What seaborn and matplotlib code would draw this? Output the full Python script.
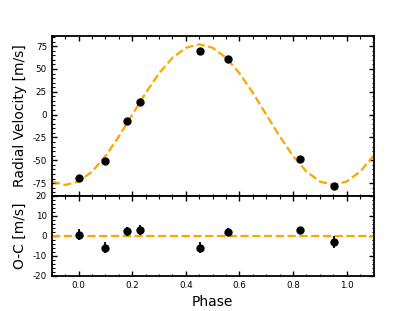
import matplotlib
matplotlib.use("Agg")
import matplotlib.pyplot as plt
import numpy as np
import pandas as pd
import seaborn as sns
from matplotlib.ticker import MultipleLocator, AutoMinorLocator

# ---- data ----
phase = [0.0, 0.10, 0.181, 0.227, 0.453, 0.556, 0.826, 0.953]
rv = [-69.0, -50.5, -6.7, 13.4, 69.8, 60.4, -48.2, -77.8]
resid = [0.5, -6.0, 2.2, 2.8, -6.0, 1.8, 2.7, -3.3]
resid_err = [2.8, 2.7, 2.2, 2.5, 2.7, 2.0, 2.0, 3.0]

model_phase = [-0.10, -0.05, 0.00, 0.05, 0.10, 0.15, 0.20, 0.25, 0.30, 0.35,
               0.40, 0.45, 0.50, 0.55, 0.60, 0.65, 0.70, 0.75, 0.80, 0.85,
               0.90, 0.95, 1.00, 1.05, 1.10]
model_rv = [-73.2, -77.0, -73.2, -62.3, -45.3, -23.8, 0.0, 23.8, 45.3, 62.3,
            73.2, 77.0, 73.2, 62.3, 45.3, 23.8, 0.0, -23.8, -45.3, -62.3,
            -73.2, -77.0, -73.2, -62.3, -45.3]

xlabel = "Phase"
ylabel_top = "Radial Velocity [m/s]"
ylabel_bot = "O-C [m/s]"

df = pd.DataFrame({"phase": phase, "rv": rv,
                   "resid": resid, "resid_err": resid_err})
dm = pd.DataFrame({"phase": model_phase, "rv": model_rv})

sns.set_style("white", {"xtick.direction": "in", "ytick.direction": "in",
                        "axes.edgecolor": "black", "text.color": "black",
                        "axes.labelcolor": "black", "xtick.color": "black",
                        "ytick.color": "black"})
plt.rcParams["font.family"] = ["DejaVu Sans"]
plt.rcParams["axes.unicode_minus"] = False

fig, (ax1, ax2) = plt.subplots(
    2, 1, sharex=True, figsize=(4.15, 3.11), dpi=100,
    gridspec_kw={"height_ratios": [2, 1], "hspace": 0})
fig.subplots_adjust(left=0.125, right=0.9, top=0.884, bottom=0.113)

line_color = "orange"

# top panel
sns.lineplot(data=dm, x="phase", y="rv", ax=ax1, color=line_color,
             linestyle=(0, (3.7, 1.6)), linewidth=1.6, zorder=1)
sns.scatterplot(data=df, x="phase", y="rv", ax=ax1, color="black",
                s=36, edgecolor="black", linewidth=0, zorder=3)

# bottom panel
ax2.axhline(0, color=line_color, linestyle=(0, (3.7, 1.6)), linewidth=1.6,
            zorder=1)
ax2.errorbar(df["phase"], df["resid"], yerr=df["resid_err"], fmt="none",
             ecolor="black", elinewidth=1.3, capsize=0, zorder=2)
sns.scatterplot(data=df, x="phase", y="resid", ax=ax2, color="black",
                s=36, edgecolor="black", linewidth=0, zorder=3)

ax1.set_xlim(-0.1, 1.1)
ax1.set_ylim(-89, 86)
ax2.set_ylim(-20, 20)

ax1.yaxis.set_major_locator(MultipleLocator(25))
ax1.yaxis.set_minor_locator(AutoMinorLocator(5))
ax2.yaxis.set_major_locator(MultipleLocator(10))
ax2.yaxis.set_minor_locator(AutoMinorLocator(5))
ax2.xaxis.set_major_locator(MultipleLocator(0.2))
ax2.xaxis.set_minor_locator(MultipleLocator(0.05))

for ax in (ax1, ax2):
    ax.tick_params(which="both", direction="in", top=True, right=True,
                   left=True, bottom=True, labelsize=6.3, colors="black")
    ax.tick_params(which="major", length=3.5, width=1.0)
    ax.tick_params(which="minor", length=1.8, width=0.8)
    for sp in ax.spines.values():
        sp.set_linewidth(1.3)
        sp.set_color("black")
        sp.set_visible(True)

ax1.tick_params(labelbottom=False)
ax1.set_xlabel("")
ax1.set_ylabel(ylabel_top, fontsize=10, color="black")
ax2.set_ylabel(ylabel_bot, fontsize=10, color="black")
ax2.set_xlabel(xlabel, fontsize=10, color="black")
fig.align_ylabels([ax1, ax2])

fig.savefig("out.png", dpi=100)
